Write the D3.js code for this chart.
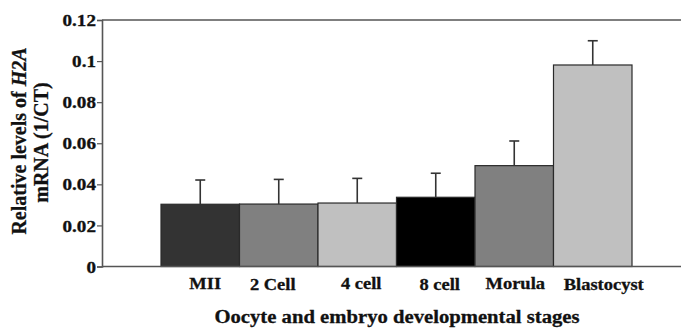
<!DOCTYPE html>
<html>
<head>
<meta charset="utf-8">
<script src="https://cdn.jsdelivr.net/npm/d3@7/dist/d3.min.js"></script>
<style>
  html, body { margin: 0; padding: 0; background: #fff; }
  svg { display: block; }
  text { font-family: "Liberation Serif", "Times New Roman", serif; font-weight: bold; fill: #111; stroke: #111; stroke-width: 0.3px; }
</style>
</head>
<body>
<script>
// Developmental stages and relative H2A mRNA levels (1/CT)
const stages = ["MII", "2 Cell", "4 cell", "8 cell", "Morula", "Blastocyst"];
const means  = [0.0303, 0.0304, 0.0309, 0.0337, 0.0491, 0.0981];
const errors = [0.0118, 0.0120, 0.0120, 0.0117, 0.0120, 0.0118];
const fills  = ["#333333", "#808080", "#c0c0c0", "#000000", "#808080", "#c0c0c0"];
const yTicks = [0, 0.02, 0.04, 0.06, 0.08, 0.1, 0.12];
const yTickLabels = ["0", "0.02", "0.04", "0.06", "0.08", "0.1", "0.12"];

const W = 681, H = 330;
const axisX = 102, plotTop = 20, plotBottom = 266.5;
const stretch = 1.16; // labels are set slightly wide

const svg = d3.select("body").append("svg").attr("width", W).attr("height", H);

const y = d3.scaleLinear().domain([0, 0.12]).range([plotBottom, plotTop]);
const x = d3.scaleBand().domain(stages).range([161, 632]).padding(0);

// frame: top rule across the plot
svg.append("line").attr("x1", axisX).attr("x2", W).attr("y1", plotTop).attr("y2", plotTop)
  .attr("stroke", "#555").attr("stroke-width", 1.6);

// bars
svg.append("g").selectAll("rect").data(stages).join("rect")
  .attr("x", d => x(d))
  .attr("y", (d, i) => y(means[i]))
  .attr("width", x.bandwidth())
  .attr("height", (d, i) => y(0) - y(means[i]))
  .attr("fill", (d, i) => fills[i])
  .attr("stroke", "#2a2a2a").attr("stroke-width", 1.2);

// upper error bars
const eb = svg.append("g").attr("stroke", "#333").attr("stroke-width", 1.6);
stages.forEach((s, i) => {
  const cx = x(s) + x.bandwidth() / 2;
  eb.append("line").attr("x1", cx).attr("x2", cx)
    .attr("y1", y(means[i])).attr("y2", y(means[i] + errors[i]));
  eb.append("line").attr("x1", cx - 5).attr("x2", cx + 5)
    .attr("y1", y(means[i] + errors[i])).attr("y2", y(means[i] + errors[i]));
});

// baseline
svg.append("line").attr("x1", axisX).attr("x2", W).attr("y1", plotBottom).attr("y2", plotBottom)
  .attr("stroke", "#555").attr("stroke-width", 1.6);

// y axis
const yAxis = d3.axisLeft(y).tickValues(yTicks)
  .tickFormat((d, i) => yTickLabels[i]).tickSize(5).tickPadding(1);
const ga = svg.append("g").attr("transform", `translate(${axisX},0)`).call(yAxis);
ga.select(".domain").attr("stroke", "#555").attr("stroke-width", 1.6);
ga.selectAll(".tick line").attr("stroke", "#555").attr("stroke-width", 1.2);
ga.selectAll(".tick text")
  .attr("font-family", null).attr("font-size", 16.5)
  .attr("x", -6 / stretch).attr("transform", `scale(${stretch},1)`).attr("dy", "0.34em");

// x category labels
const labelNudge = [[5, 288.5], [-6, 290], [4, 288.5], [4, 290], [1, 288.5], [11, 290]];
svg.append("g").selectAll("text").data(stages).join("text")
  .attr("transform", (d, i) =>
    `translate(${x(d) + x.bandwidth() / 2 + labelNudge[i][0]},${labelNudge[i][1]}) scale(${stretch - 0.04},1)`)
  .attr("text-anchor", "middle").attr("font-size", 16.5)
  .text(d => d);

// x axis title
svg.append("text")
  .attr("transform", `translate(397,323) scale(${stretch - 0.03},1)`)
  .attr("text-anchor", "middle").attr("font-size", 18.3)
  .text("Oocyte and embryo developmental stages");

// y axis title (two lines)
const t1 = svg.append("text")
  .attr("transform", "translate(26,141) rotate(-90)")
  .attr("text-anchor", "middle").attr("font-size", 20);
t1.append("tspan").text("Relative levels of ");
t1.append("tspan").attr("font-style", "italic").text("H2A");
svg.append("text")
  .attr("transform", "translate(48,142.5) rotate(-90)")
  .attr("text-anchor", "middle").attr("font-size", 20)
  .text("mRNA (1/CT)");
</script>
</body>
</html>
